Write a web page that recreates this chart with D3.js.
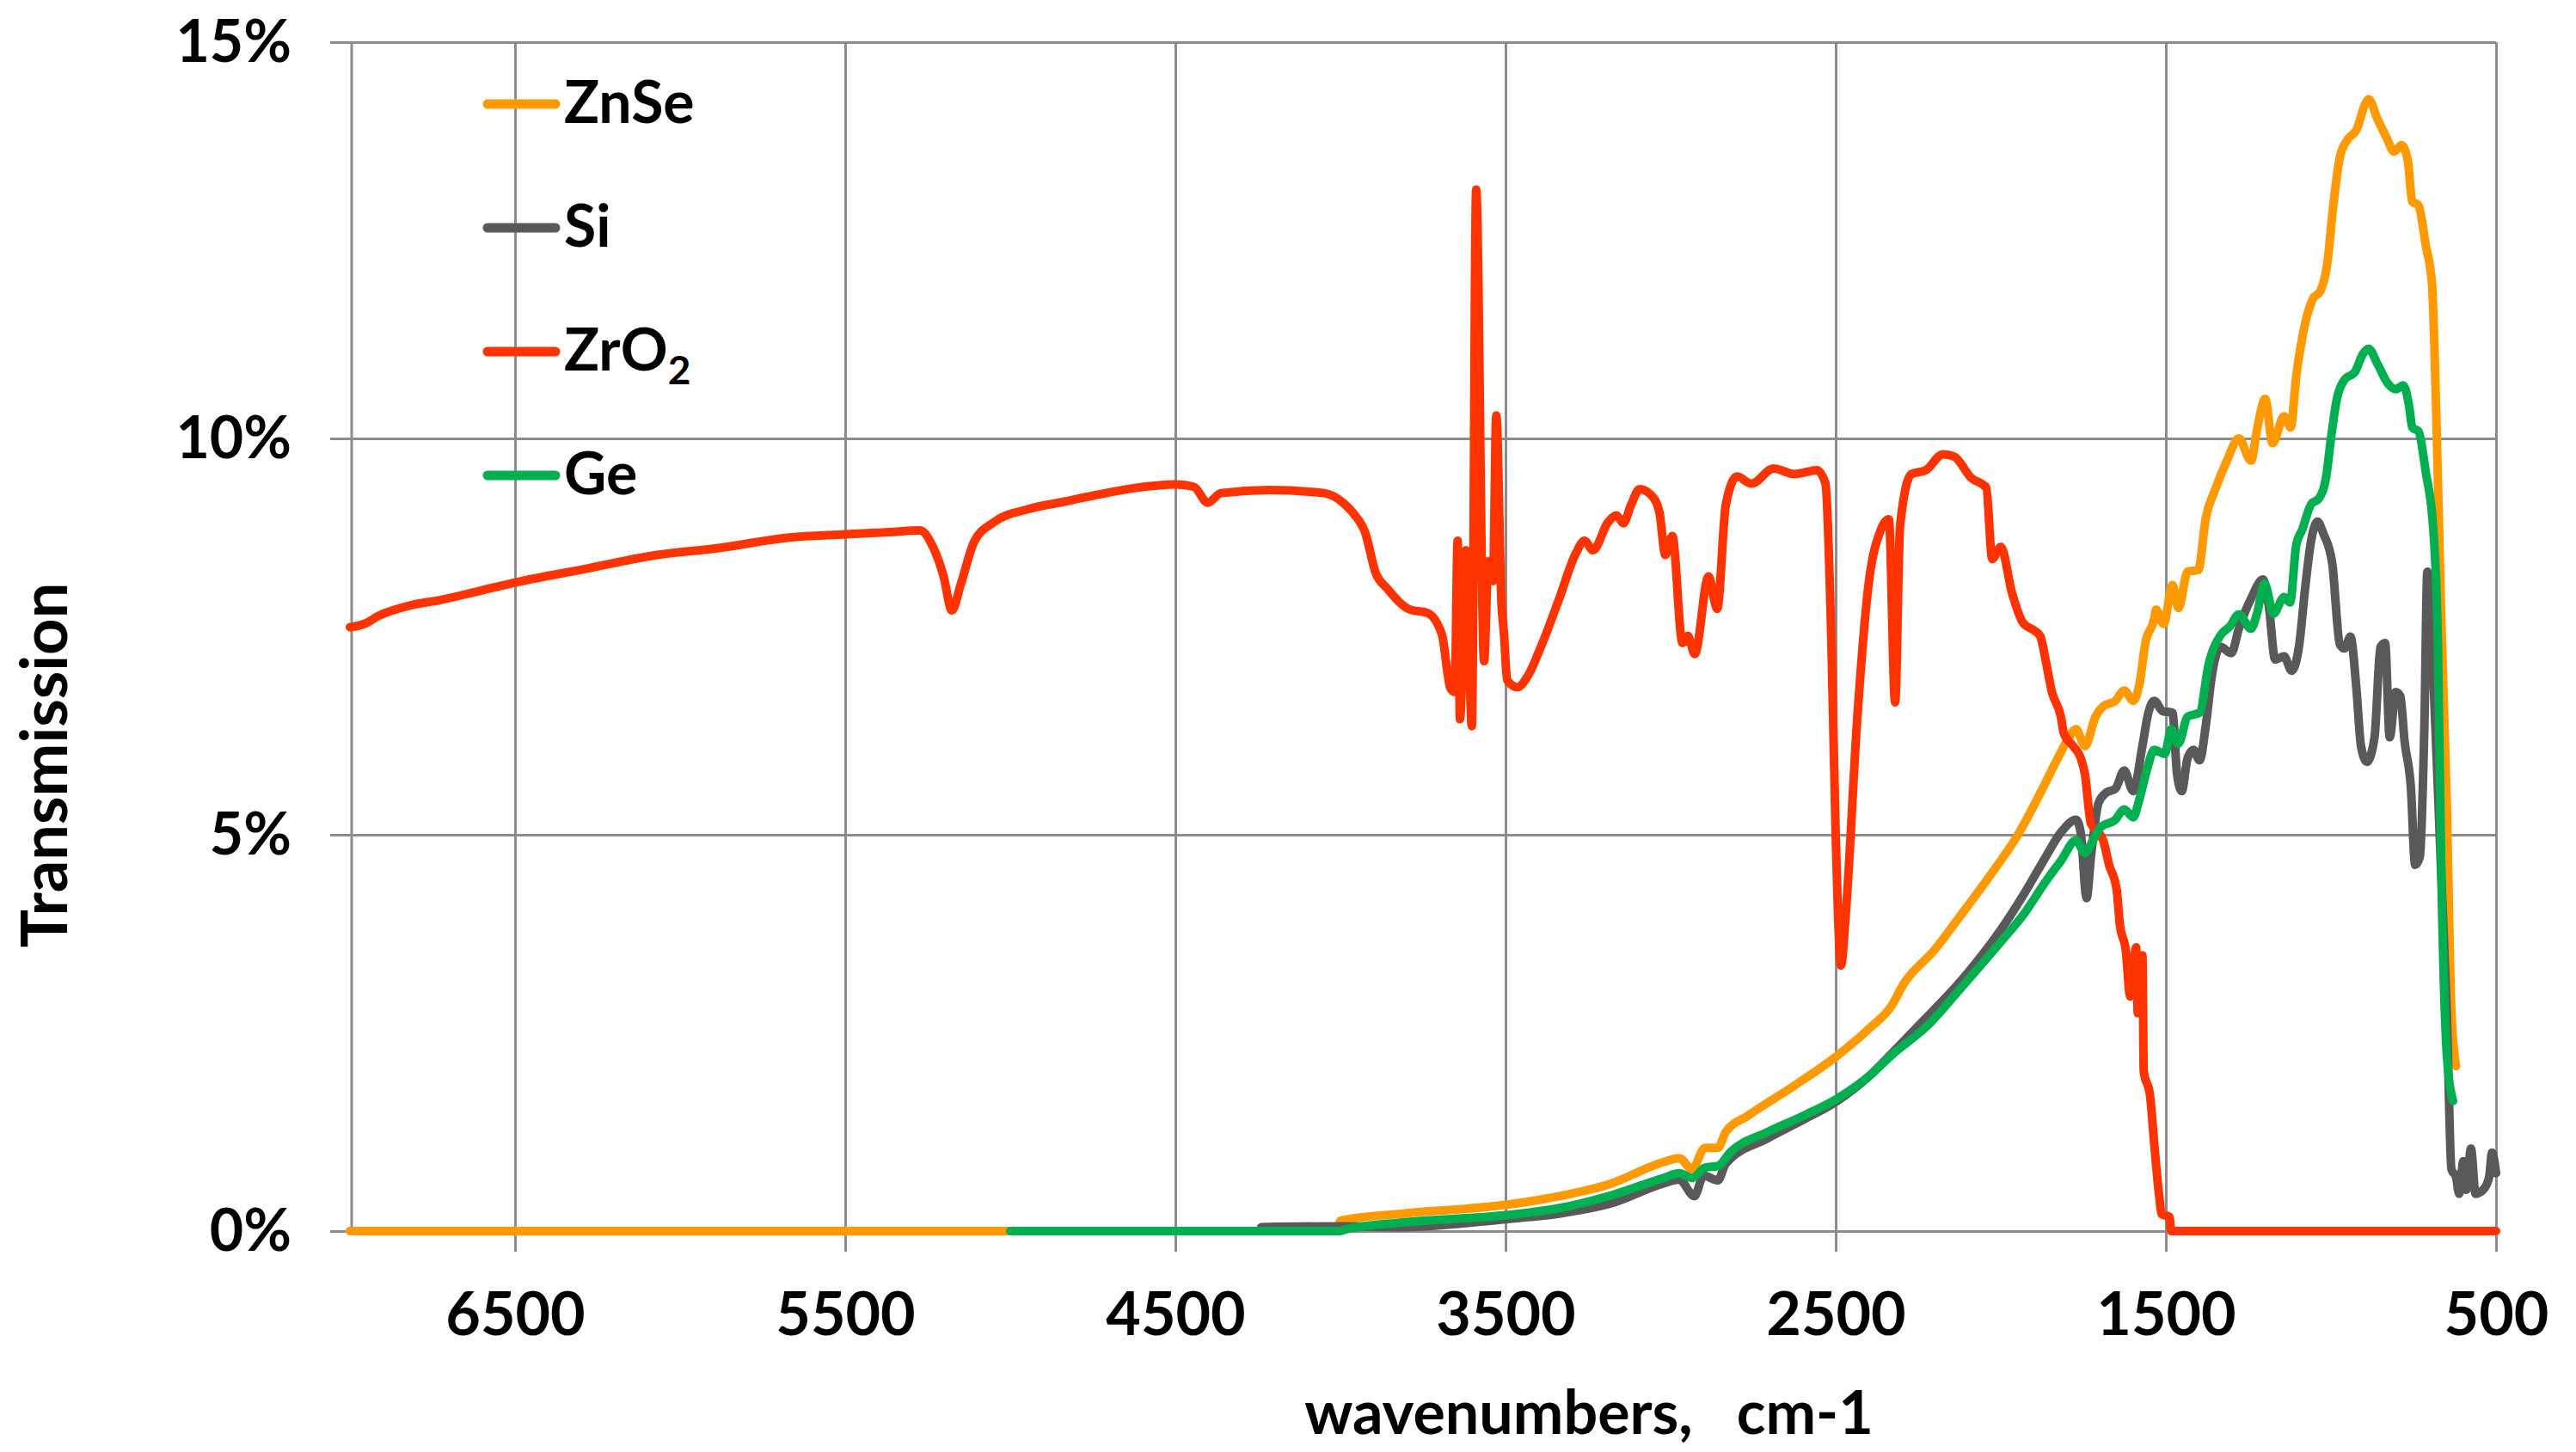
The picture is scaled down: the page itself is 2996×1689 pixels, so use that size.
<!DOCTYPE html>
<html>
<head>
<meta charset="utf-8">
<script src="https://cdn.jsdelivr.net/npm/d3@7"></script>
<style>
  html, body { margin: 0; padding: 0; background: #fff; overflow: hidden; }
  svg { display: block; font-family: Lato, "Open Sans", sans-serif; font-weight: 700; }
</style>
</head>
<body>
<svg width="2996" height="1689"></svg>
<script>
// [wavenumber, transmission %]
const znse = [[7000,0],[5000,0],[4010,0],[4000,0.13],[3810,0.22],[3500,0.33],[3337,0.44],[3180,0.60],[3022,0.87],[2974,0.92],[2935,0.78],[2896,1.05],[2857,1.05],[2833,1.25],[2768,1.45],[2627,1.83],[2496,2.21],[2400,2.55],[2328,2.86],[2297,3.1],[2200,3.55],[2122,3.98],[2030,4.5],[1948,5.0],[1864,5.66],[1827,5.97],[1800,6.18],[1772,6.33],[1745,6.12],[1713,6.49],[1690,6.62],[1653,6.69],[1626,6.82],[1599,6.69],[1580,6.90],[1562,7.42],[1535,7.73],[1530,7.84],[1507,7.66],[1480,8.15],[1462,7.86],[1434,8.32],[1402,8.34],[1379,9.0],[1352,9.34],[1315,9.72],[1279,10.0],[1242,9.72],[1224,10.11],[1199,10.5],[1177,9.94],[1142,10.28],[1122,10.14],[1105,10.79],[1087,11.27],[1055,11.76],[1032,11.86],[1010,12.24],[996,12.82],[973,13.55],[950,13.77],[923,13.89],[895,14.23],[886,14.28],[859,14.03],[831,13.79],[809,13.62],[786,13.7],[767,13.5],[754,12.99],[735,12.94],[713,12.44],[694,11.95],[681,10.3],[667,7.9],[649,5.35],[635,2.75],[621,2.08]];

const si = [[4240,0.05],[4010,0.06],[3810,0.05],[3500,0.15],[3337,0.22],[3180,0.35],[3022,0.6],[2974,0.65],[2928,0.44],[2900,0.7],[2857,0.64],[2833,0.85],[2706,1.17],[2600,1.40],[2496,1.64],[2400,1.95],[2328,2.25],[2247,2.6],[2122,3.15],[2000,3.8],[1930,4.25],[1864,4.72],[1818,5.03],[1772,5.19],[1758,5.03],[1740,4.2],[1727,4.72],[1704,5.4],[1681,5.53],[1653,5.58],[1626,5.81],[1599,5.55],[1571,6.12],[1553,6.54],[1535,6.69],[1510,6.56],[1480,6.54],[1466,5.76],[1452,5.55],[1434,5.97],[1416,6.07],[1398,5.94],[1379,6.38],[1361,7.0],[1334,7.37],[1302,7.29],[1279,7.6],[1242,7.98],[1206,8.22],[1188,7.88],[1169,7.21],[1142,7.25],[1119,7.07],[1096,7.4],[1078,8.12],[1060,8.71],[1041,8.95],[1023,8.8],[996,8.42],[973,7.4],[959,7.35],[941,7.5],[923,6.85],[909,6.12],[891,5.92],[868,6.23],[850,7.37],[836,7.42],[822,6.23],[804,6.8],[790,6.75],[777,6.18],[758,5.6],[745,4.62],[731,4.72],[717,6.38],[708,8.32],[690,7.0],[667,4.6],[649,2.75],[635,0.78],[621,0.68],[612,0.47],[599,0.88],[590,0.52],[576,1.04],[562,0.47],[539,0.52],[521,0.68],[512,0.99],[500,0.73]];

const zro2 = [[7000,7.62],[6957,7.66],[6914,7.76],[6810,7.9],[6728,7.96],[6604,8.08],[6491,8.19],[6292,8.35],[6085,8.52],[5878,8.62],[5669,8.75],[5500,8.79],[5357,8.82],[5274,8.84],[5233,8.62],[5202,8.26],[5177,7.83],[5150,8.16],[5109,8.70],[5047,8.95],[4943,9.11],[4839,9.20],[4735,9.29],[4631,9.37],[4496,9.42],[4444,9.39],[4402,9.19],[4362,9.31],[4216,9.35],[4049,9.31],[3987,9.17],[3960,9.05],[3925,8.81],[3893,8.30],[3859,8.11],[3789,7.84],[3737,7.80],[3693,7.53],[3667,6.85],[3654,6.80],[3645,8.71],[3638,6.46],[3620,8.59],[3602,6.37],[3589,13.14],[3565,7.19],[3552,8.45],[3538,8.2],[3528,10.29],[3512,7.9],[3505,7.55],[3495,6.95],[3464,6.86],[3433,7.0],[3391,7.39],[3339,7.96],[3287,8.55],[3261,8.71],[3235,8.59],[3190,8.94],[3164,9.03],[3143,8.93],[3120,9.16],[3094,9.36],[3060,9.29],[3034,9.07],[3016,8.53],[2995,8.77],[2964,7.42],[2948,7.51],[2927,7.28],[2885,8.26],[2859,7.85],[2833,9.16],[2799,9.52],[2755,9.43],[2688,9.62],[2625,9.55],[2557,9.6],[2531,9.43],[2513,7.42],[2500,5.0],[2484,3.35],[2469,4.03],[2435,6.45],[2401,8.14],[2365,8.83],[2339,8.98],[2320,6.67],[2305,8.9],[2271,9.55],[2227,9.6],[2175,9.8],[2141,9.77],[2089,9.5],[2044,9.38],[2026,8.48],[2000,8.63],[1966,8.05],[1932,7.67],[1896,7.57],[1880,7.5],[1864,7.2],[1845,6.8],[1818,6.49],[1809,6.28],[1781,6.12],[1758,5.97],[1745,5.76],[1727,5.14],[1704,5.03],[1690,4.93],[1672,4.62],[1649,4.31],[1640,3.89],[1621,3.53],[1608,2.96],[1590,3.58],[1585,2.75],[1571,3.48],[1567,2.02],[1548,1.71],[1535,1.09],[1521,0.47],[1512,0.21],[1489,0.18],[1484,0],[500,0]];

const ge = [[5000,0],[4000,0],[3985,0.02],[3810,0.11],[3500,0.20],[3337,0.29],[3180,0.45],[3022,0.67],[2974,0.73],[2935,0.67],[2896,0.80],[2857,0.82],[2818,1.0],[2706,1.25],[2600,1.45],[2496,1.67],[2400,1.95],[2328,2.23],[2220,2.6],[2122,3.06],[2000,3.65],[1930,4.0],[1864,4.41],[1818,4.67],[1772,4.93],[1745,4.77],[1727,4.88],[1699,5.09],[1653,5.19],[1626,5.32],[1599,5.22],[1580,5.45],[1558,5.81],[1535,6.07],[1503,6.02],[1484,6.33],[1462,6.15],[1434,6.49],[1398,6.54],[1370,7.16],[1334,7.52],[1306,7.63],[1279,7.78],[1242,7.6],[1224,7.79],[1201,8.17],[1174,7.79],[1142,8.0],[1124,7.93],[1105,8.66],[1087,8.85],[1060,9.17],[1037,9.24],[1014,9.53],[1000,10.0],[982,10.5],[959,10.74],[927,10.84],[904,11.06],[886,11.13],[859,10.94],[827,10.69],[804,10.62],[781,10.67],[763,10.4],[754,10.14],[735,10.09],[713,9.58],[690,8.85],[676,7.4],[667,4.83],[649,2.23],[630,1.64]];

const seriesNames = ["ZnSe", "Si", "ZrO2", "Ge"];
const seriesData = [znse, si, zro2, ge];
const colors = ["#FF9900", "#595959", "#FF3300", "#00B050"];
const xTicks = [6500, 5500, 4500, 3500, 2500, 1500, 500];
const yTicks = [0, 5, 10, 15];

const svg = d3.select("svg");
const margin = {top: 49, right: 93, bottom: 257, left: 407};
const width = 2996, height = 1689;
const innerWidth = width - margin.left - margin.right;
const innerHeight = height - margin.top - margin.bottom;

const scaleX = d3.scaleLinear().domain([7000, 500]).range([0, innerWidth]);
const scaleY = d3.scaleLinear().domain([0, 15]).range([innerHeight, 0]);

const g = svg.append("g").attr("transform", `translate(${margin.left}, ${margin.top})`);

// horizontal grid + y labels
const yAxis = g.append("g")
    .call(d3.axisLeft(scaleY).tickValues(yTicks).tickSize(-innerWidth).tickFormat(d => d + "%"));
yAxis.select(".domain").remove();
yAxis.selectAll("line").attr("x1", -23).attr("stroke", "#8c8c8c").attr("stroke-width", 3);
yAxis.selectAll("text")
    .attr("x", -68).attr("dy", 22)
    .attr("font-size", 68).attr("font-family", "Lato").attr("font-weight", 700)
    .attr("fill", "#000").attr("text-anchor", "end");

// vertical grid + x labels
const xAxis = g.append("g")
    .attr("transform", `translate(0, ${innerHeight})`)
    .call(d3.axisBottom(scaleX).tickValues(xTicks).tickSize(-innerHeight).tickFormat(d3.format("d")));
xAxis.select(".domain").remove();
xAxis.selectAll("line").attr("y1", 24).attr("stroke", "#8c8c8c").attr("stroke-width", 3);
xAxis.selectAll("text")
    .attr("y", 121).attr("dy", 0)
    .attr("font-size", 70).attr("font-family", "Lato").attr("font-weight", 700)
    .attr("fill", "#000");

// left axis line
g.append("line")
    .attr("x1", 2).attr("x2", 2)
    .attr("y1", 0).attr("y2", innerHeight)
    .attr("stroke", "#8c8c8c").attr("stroke-width", 3);

// series
const line = d3.line()
    .x(d => scaleX(d[0]))
    .y(d => scaleY(d[1]))
    .curve(d3.curveMonotoneX);

seriesData.forEach((data, i) => {
    g.append("path")
        .datum(data)
        .attr("fill", "none")
        .attr("stroke", colors[i])
        .attr("stroke-width", 10)
        .attr("stroke-linejoin", "round")
        .attr("stroke-linecap", "round")
        .attr("d", line);
});

// legend
const legend = svg.append("g");
seriesNames.forEach((name, i) => {
    const y = 121 + i * 144;
    legend.append("line")
        .attr("x1", 567).attr("x2", 646)
        .attr("y1", y).attr("y2", y)
        .attr("stroke", colors[i]).attr("stroke-width", 11)
        .attr("stroke-linecap", "round");
    const t = legend.append("text")
        .attr("x", 656).attr("y", y + 22)
        .attr("font-size", 68).attr("fill", "#000");
    if (name === "ZrO2") {
        t.append("tspan").text("ZrO");
        t.append("tspan").attr("font-size", 46).attr("dy", 16).text("2");
    } else {
        t.text(name);
    }
});

// axis titles
svg.append("text")
    .attr("transform", "translate(78, 890) rotate(-90)")
    .attr("text-anchor", "middle")
    .attr("font-size", 74).attr("fill", "#000")
    .text("Transmission");

svg.append("text")
    .attr("x", 1848).attr("y", 1668)
    .attr("text-anchor", "middle")
    .attr("font-size", 70).attr("fill", "#000")
    .style("white-space", "pre")
    .text("wavenumbers,   cm-1");
</script>
</body>
</html>
